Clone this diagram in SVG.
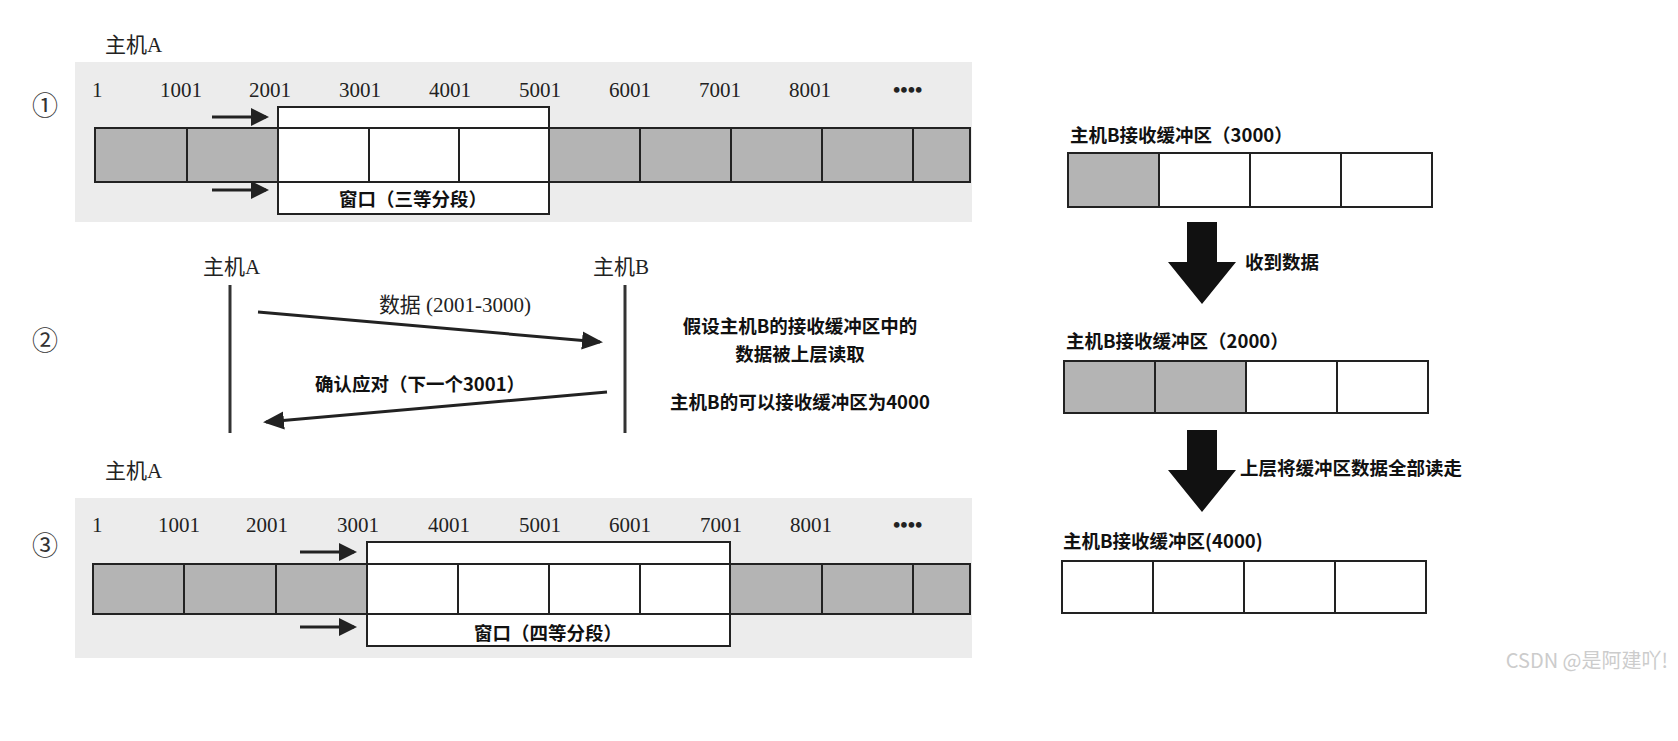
<svg xmlns="http://www.w3.org/2000/svg" width="1678" height="741" viewBox="0 0 1678 741">
<style>
.t{font-family:"Liberation Serif","Noto Sans CJK SC",serif;font-size:21px;fill:#222}
.c{font-family:"Noto Sans CJK SC",sans-serif;font-size:18.5px;font-weight:bold;fill:#111}
.bg{fill:#ececec}
.g{fill:#b4b4b4;stroke:#222;stroke-width:2}
.w{fill:#fff;stroke:#222;stroke-width:2}
.ln{stroke:#222;stroke-width:3;fill:none}
</style>
<defs>
<marker id="ah" markerWidth="8" markerHeight="8" refX="6" refY="4" orient="auto" markerUnits="strokeWidth"><path d="M0,1 L7,4 L0,7 z" fill="#222"/></marker>
<marker id="sh" markerWidth="6" markerHeight="6" refX="5" refY="3" orient="auto" markerUnits="strokeWidth"><path d="M0,0 L6,3 L0,6 z" fill="#222"/></marker>
</defs>
<rect width="1678" height="741" fill="#fff"/>
<g id="band1">
<rect class="bg" x="75" y="62" width="897" height="160"/>
<text class="t" x="105" y="52">主机A</text>
<rect class="g" x="95" y="128" width="875" height="54"/>
<g stroke="#222" stroke-width="2"><line x1="187" y1="128" x2="187" y2="182"/><line x1="640" y1="128" x2="640" y2="182"/><line x1="731" y1="128" x2="731" y2="182"/><line x1="822" y1="128" x2="822" y2="182"/><line x1="913" y1="128" x2="913" y2="182"/></g>
<rect class="w" x="278" y="107" width="271" height="107"/>
<line x1="278" y1="128" x2="549" y2="128" stroke="#222" stroke-width="2"/>
<line x1="278" y1="182" x2="549" y2="182" stroke="#222" stroke-width="2"/>
<line x1="369" y1="128" x2="369" y2="182" stroke="#222" stroke-width="2"/>
<line x1="459" y1="128" x2="459" y2="182" stroke="#222" stroke-width="2"/>
<text class="c" x="413" y="206" text-anchor="middle">窗口（三等分段）</text>
<g class="t"><text x="92" y="97">1</text><text x="160" y="97">1001</text><text x="249" y="97">2001</text><text x="339" y="97">3001</text><text x="429" y="97">4001</text><text x="519" y="97">5001</text><text x="609" y="97">6001</text><text x="699" y="97">7001</text><text x="789" y="97">8001</text><text x="893" y="97" font-weight="bold">••••</text></g>
<line class="ln" x1="212" y1="117" x2="266" y2="117" marker-end="url(#sh)"/>
<line class="ln" x1="212" y1="190" x2="266" y2="190" marker-end="url(#sh)"/>
<text x="45" y="115" font-family="Noto Sans CJK SC,sans-serif" font-size="26" fill="#333" text-anchor="middle">①</text>
</g>
<g id="seq">
<text x="45" y="350" font-family="Noto Sans CJK SC,sans-serif" font-size="26" fill="#333" text-anchor="middle">②</text>
<text class="t" x="203" y="274">主机A</text>
<text class="t" x="593" y="274">主机B</text>
<line x1="230" y1="285" x2="230" y2="433" stroke="#333" stroke-width="3"/>
<line x1="625" y1="285" x2="625" y2="433" stroke="#333" stroke-width="3"/>
<text class="t" x="455" y="312" text-anchor="middle">数据 (2001-3000)</text>
<text class="c" x="420" y="391" text-anchor="middle">确认应对（下一个3001）</text>
<text class="c" x="800" y="333" text-anchor="middle">假设主机B的接收缓冲区中的</text>
<text class="c" x="800" y="361" text-anchor="middle">数据被上层读取</text>
<text class="c" x="800" y="409" text-anchor="middle">主机B的可以接收缓冲区为4000</text>
</g>
<g id="connectors">
<line class="ln" x1="258" y1="312" x2="600" y2="342" marker-end="url(#ah)"/>
<line class="ln" x1="607" y1="392" x2="266" y2="422" marker-end="url(#ah)"/>
</g>
<g id="band3">
<rect class="bg" x="75" y="498" width="897" height="160"/>
<text class="t" x="105" y="478">主机A</text>
<rect class="g" x="93" y="564" width="877" height="50"/>
<g stroke="#222" stroke-width="2"><line x1="184" y1="564" x2="184" y2="614"/><line x1="276" y1="564" x2="276" y2="614"/><line x1="822" y1="564" x2="822" y2="614"/><line x1="913" y1="564" x2="913" y2="614"/></g>
<rect class="w" x="367" y="542" width="363" height="104"/>
<g stroke="#222" stroke-width="2"><line x1="367" y1="564" x2="730" y2="564"/><line x1="367" y1="614" x2="730" y2="614"/><line x1="458" y1="564" x2="458" y2="614"/><line x1="549" y1="564" x2="549" y2="614"/><line x1="640" y1="564" x2="640" y2="614"/></g>
<text class="c" x="548" y="640" text-anchor="middle">窗口（四等分段）</text>
<g class="t"><text x="92" y="532">1</text><text x="158" y="532">1001</text><text x="246" y="532">2001</text><text x="337" y="532">3001</text><text x="428" y="532">4001</text><text x="519" y="532">5001</text><text x="609" y="532">6001</text><text x="700" y="532">7001</text><text x="790" y="532">8001</text><text x="893" y="532" font-weight="bold">••••</text></g>
<line class="ln" x1="300" y1="552" x2="354" y2="552" marker-end="url(#sh)"/>
<line class="ln" x1="300" y1="627" x2="354" y2="627" marker-end="url(#sh)"/>
<text x="45" y="555" font-family="Noto Sans CJK SC,sans-serif" font-size="26" fill="#333" text-anchor="middle">③</text>
</g>
<g id="buf1">
<text class="c" x="1070" y="142">主机B接收缓冲区（3000）</text>
<rect class="g" x="1068" y="153" width="91" height="54"/>
<rect class="w" x="1159" y="153" width="91" height="54"/><rect class="w" x="1250" y="153" width="91" height="54"/><rect class="w" x="1341" y="153" width="91" height="54"/>
</g>
<g id="arrow1">
<path d="M1187,222 H1217 V262 H1236 L1202,304 L1168,262 H1187 Z" fill="#111"/>
<text class="c" x="1245" y="269">收到数据</text>
</g>
<g id="buf2">
<text class="c" x="1066" y="348">主机B接收缓冲区（2000）</text>
<rect class="g" x="1064" y="361" width="91" height="52"/><rect class="g" x="1155" y="361" width="91" height="52"/>
<rect class="w" x="1246" y="361" width="91" height="52"/><rect class="w" x="1337" y="361" width="91" height="52"/>
</g>
<g id="arrow2">
<path d="M1187,430 H1217 V470 H1236 L1202,512 L1168,470 H1187 Z" fill="#111"/>
<text class="c" x="1240" y="475">上层将缓冲区数据全部读走</text>
</g>
<g id="buf3">
<text class="c" x="1063" y="548">主机B接收缓冲区(4000)</text>
<rect class="w" x="1062" y="561" width="91" height="52"/><rect class="w" x="1153" y="561" width="91" height="52"/><rect class="w" x="1244" y="561" width="91" height="52"/><rect class="w" x="1335" y="561" width="91" height="52"/>
</g>
<text x="1668" y="668" text-anchor="end" font-family="Noto Sans CJK SC,sans-serif" font-size="20" fill="#ccc">CSDN @是阿建吖!</text>
</svg>
